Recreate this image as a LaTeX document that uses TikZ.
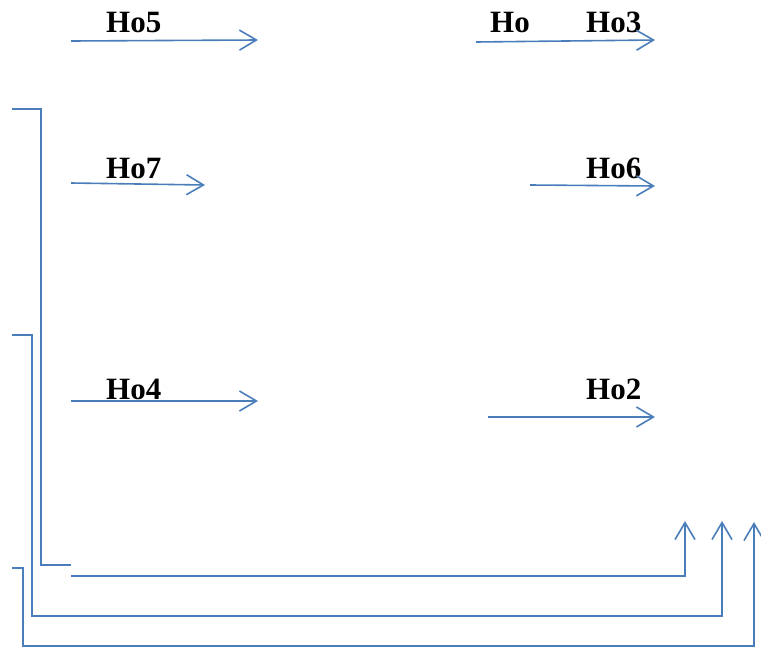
\documentclass[tikz,border=0pt]{standalone}
\usepackage{fontspec}
\setmainfont{Liberation Serif}
\usetikzlibrary{arrows.meta}
\definecolor{lineblue}{HTML}{4A7EBB}
\begin{document}
\begin{tikzpicture}[x=1pt,y=-1pt,
  wire/.style={draw=lineblue,line width=1.6pt},
  arr/.style={wire,-{Straight Barb[length=17pt,width=20pt,line width=1.6pt]}},
  lbl/.style={anchor=base west,inner sep=0pt,font=\fontsize{31}{36}\selectfont\bfseries}]
\useasboundingbox (0,0) rectangle (761,648);
% labels
\node[lbl] (l5) at (106,32) {Ho5};
\node[lbl] (l0) at (490,32) {Ho};
\node[lbl] (l3) at (586,32) {Ho3};
\node[lbl] (l7) at (106,178) {Ho7};
\node[lbl] (l6) at (586,178) {Ho6};
\node[lbl] (l4) at (106,399) {Ho4};
\node[lbl] (l2) at (586,399) {Ho2};
% arrow endpoints
\coordinate (a5s) at (71,41);  \coordinate (a5e) at (258,40);
\coordinate (a3s) at (476,42); \coordinate (a3e) at (655,40);
\coordinate (a7s) at (71,183); \coordinate (a7e) at (205,185);
\coordinate (a6s) at (530,185);\coordinate (a6e) at (655,186);
\coordinate (a4s) at (71,401); \coordinate (a4e) at (258,401);
\coordinate (a2s) at (488,417);\coordinate (a2e) at (655,417);
\draw[arr] (a5s) -- (a5e);
\draw[arr] (a3s) -- (a3e);
\draw[arr] (a7s) -- (a7e);
\draw[arr] (a6s) -- (a6e);
\draw[arr] (a4s) -- (a4e);
\draw[arr] (a2s) -- (a2e);
% brackets
\coordinate (b1a) at (12,109); \coordinate (b1b) at (71,565);
\draw[wire] (b1a) -- (41,109) -- (41,565) -- (b1b);
\coordinate (b4a) at (71,576); \coordinate (b4b) at (685,521);
\draw[arr] (b4a) -- (685,576) -- (b4b);
\coordinate (b2a) at (12,335); \coordinate (b2b) at (722,521);
\draw[arr] (b2a) -- (32,335) -- (32,616) -- (722,616) -- (b2b);
\coordinate (b3a) at (12,568); \coordinate (b3b) at (754,522);
\draw[arr] (b3a) -- (23,568) -- (23,646) -- (754,646) -- (b3b);
\end{tikzpicture}
\end{document}
